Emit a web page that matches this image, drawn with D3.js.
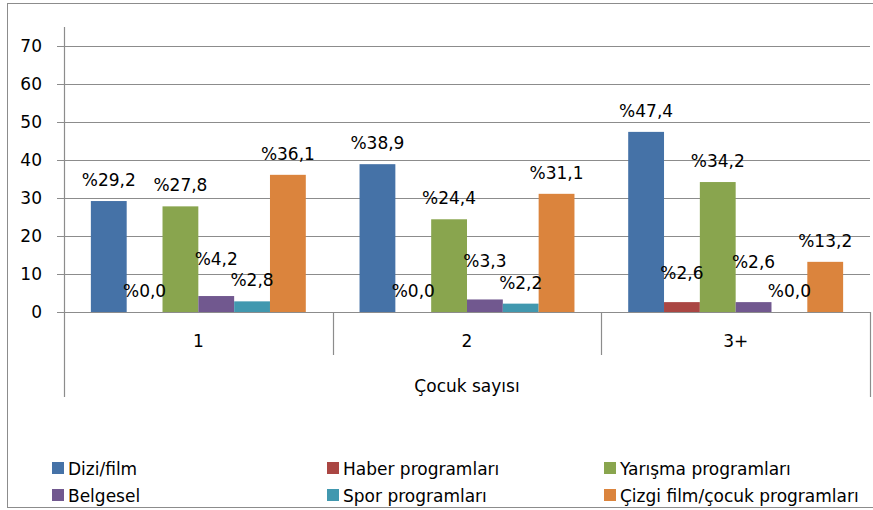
<!DOCTYPE html>
<html>
<head>
<meta charset="utf-8">
<script src="https://cdn.jsdelivr.net/npm/d3@7"></script>
<style>
    body { margin: 0; background: white; }
    svg text { font-family: 'DejaVu Sans', sans-serif; fill: black; }
</style>
</head>
<body>
<div id="chart-container"></div>
<script>
const categories = ['1', '2', '3+']
const seriesNames = [
    'Dizi/film',
    'Haber programları',
    'Yarışma programları',
    'Belgesel',
    'Spor programları',
    'Çizgi film/çocuk programları'
]
const diziFilm = [29.2, 38.9, 47.4]
const haber = [0.0, 0.0, 2.6]
const yarisma = [27.8, 24.4, 34.2]
const belgesel = [4.2, 3.3, 2.6]
const spor = [2.8, 2.2, 0.0]
const cizgiFilm = [36.1, 31.1, 13.2]
const yTicks = [0, 10, 20, 30, 40, 50, 60, 70]
const xAxisTitle = 'Çocuk sayısı'

const seriesValues = [diziFilm, haber, yarisma, belgesel, spor, cizgiFilm]
const colours = ['#4572A7', '#AA4643', '#89A54E', '#71588F', '#4198AF', '#DB843D']

// labels that were moved up by hand in the original to avoid overlaps
const labelLift = { '3|1': 16, '3|2': 17, '1|3+': 8, '3|3+': 19 }

const width = 873
const height = 510
const plot = { left: 64, right: 870, top: 27, bottom: 312 }
const gridColour = '#8c8c8c'
const fontSize = '17px'

const svg = d3.select('#chart-container')
    .append('svg')
    .attr('width', width)
    .attr('height', height)

svg.append('rect')
    .attr('x', 7.5)
    .attr('y', 3.5)
    .attr('width', 880)
    .attr('height', 504)
    .attr('fill', 'white')
    .attr('stroke', gridColour)
    .attr('stroke-width', 1)

const x = d3.scaleBand()
    .domain(categories)
    .range([plot.left, plot.right])

const xInner = d3.scaleBand()
    .domain(d3.range(seriesNames.length))
    .range([0, x.bandwidth()])
    .paddingOuter(0.75)

const y = d3.scaleLinear()
    .domain([0, 75])
    .range([plot.bottom, plot.top])

// gridlines + left ticks
svg.append('g')
    .selectAll('line')
    .data(yTicks)
    .join('line')
    .attr('x1', plot.left - 7)
    .attr('x2', plot.right)
    .attr('y1', d => Math.round(y(d)) + 0.5)
    .attr('y2', d => Math.round(y(d)) + 0.5)
    .attr('stroke', gridColour)
    .attr('stroke-width', 1.2)

svg.append('g')
    .selectAll('text')
    .data(yTicks)
    .join('text')
    .attr('x', 42)
    .attr('y', d => y(d))
    .attr('dy', '0.36em')
    .attr('text-anchor', 'end')
    .style('font-size', fontSize)
    .text(d => d)

// y axis line runs down through the category axis
svg.append('line')
    .attr('x1', plot.left + 0.5)
    .attr('x2', plot.left + 0.5)
    .attr('y1', plot.top)
    .attr('y2', 397)
    .attr('stroke', gridColour)
    .attr('stroke-width', 1.2)

svg.append('line')
    .attr('x1', plot.right + 0.5)
    .attr('x2', plot.right + 0.5)
    .attr('y1', plot.bottom)
    .attr('y2', 397)
    .attr('stroke', gridColour)
    .attr('stroke-width', 1.2)

svg.append('g')
    .selectAll('line')
    .data(categories.slice(1))
    .join('line')
    .attr('x1', d => Math.round(x(d)) + 0.5)
    .attr('x2', d => Math.round(x(d)) + 0.5)
    .attr('y1', plot.bottom)
    .attr('y2', 355)
    .attr('stroke', gridColour)
    .attr('stroke-width', 1.2)

svg.append('g')
    .selectAll('text')
    .data(categories)
    .join('text')
    .attr('x', d => x(d) + x.bandwidth() / 2)
    .attr('y', 347)
    .attr('text-anchor', 'middle')
    .style('font-size', fontSize)
    .text(d => d)

svg.append('text')
    .attr('x', (plot.left + plot.right) / 2)
    .attr('y', 392)
    .attr('text-anchor', 'middle')
    .style('font-size', fontSize)
    .text(xAxisTitle)

// bars
const barData = seriesValues.flatMap((values, s) =>
    values.map((value, c) => ({ series: s, category: categories[c], value }))
)

svg.append('g')
    .selectAll('rect')
    .data(barData)
    .join('rect')
    .attr('x', d => x(d.category) + xInner(d.series))
    .attr('y', d => y(d.value))
    .attr('width', xInner.bandwidth())
    .attr('height', d => y(0) - y(d.value))
    .attr('fill', d => colours[d.series])

svg.append('g')
    .selectAll('text')
    .data(barData)
    .join('text')
    .attr('x', d => x(d.category) + xInner(d.series) + xInner.bandwidth() / 2)
    .attr('y', d => y(d.value) - 15 - (labelLift[`${d.series}|${d.category}`] || 0))
    .attr('text-anchor', 'middle')
    .style('font-size', fontSize)
    .text(d => `%${d.value.toFixed(1).replace('.', ',')}`)

// legend, 3 columns x 2 rows
const legendCols = [52, 327, 604]
const legendRows = [462, 489]

const legend = svg.append('g')
    .selectAll('g')
    .data(seriesNames)
    .join('g')
    .attr('transform', (d, i) => `translate(${legendCols[i % 3]},${legendRows[Math.floor(i / 3)]})`)

legend.append('rect')
    .attr('width', 12)
    .attr('height', 12)
    .attr('fill', (d, i) => colours[i])

legend.append('text')
    .attr('x', 16)
    .attr('y', 12.5)
    .style('font-size', fontSize)
    .text(d => d)
</script>
</body>
</html>
